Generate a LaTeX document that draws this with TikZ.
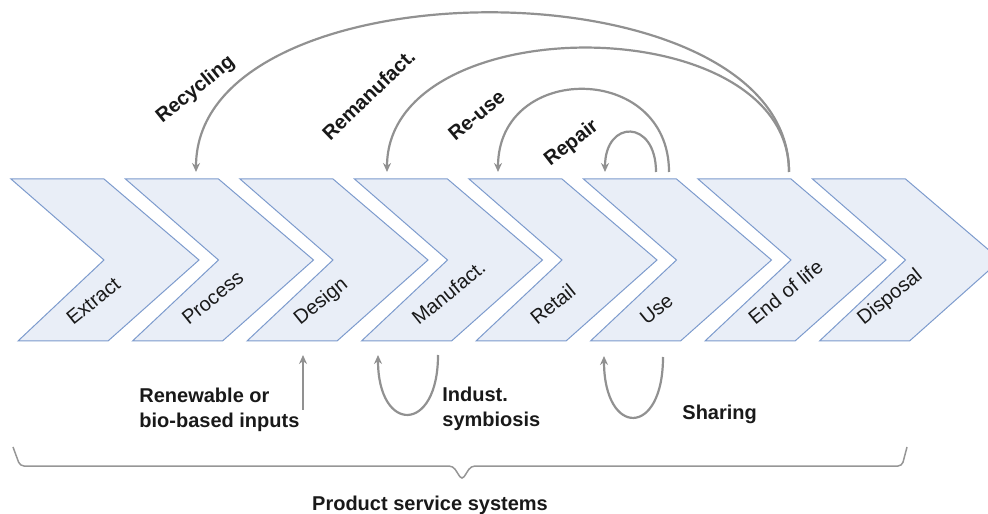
\documentclass[tikz,border=0pt]{standalone}
\usepackage{fontspec}
\setmainfont{Liberation Sans}
\usetikzlibrary{arrows.meta}
\definecolor{chevfill}{RGB}{233,238,247}
\definecolor{chevline}{RGB}{125,155,205}
\definecolor{loopgray}{RGB}{145,145,145}
\definecolor{bracegray}{RGB}{150,150,150}
\definecolor{txtdark}{RGB}{25,25,25}
\tikzset{
	chev/.style={draw=chevline,fill=chevfill,line width=0.5pt},
	stage/.style={anchor=base west,rotate=39,inner sep=0pt,font=\fontsize{10}{12}\selectfont,text=txtdark},
	loopline/.style={draw=loopgray,line width=1.1pt,-{Stealth[length=4.5pt,width=4pt]}},
	lbl/.style={inner sep=0pt,font=\fontsize{10}{12.2}\selectfont\bfseries,text=txtdark},
}

\begin{document}
\begin{tikzpicture}[x=0.5pt,y=0.5pt]
				\useasboundingbox (0,0) rectangle (988,513);
				% value chain
				\foreach \name/\txt/\off [count=\i from 0] in {extract/Extract/62,process/Process/63,design/Design/60,manuf/Manufact./64,retail/Retail/68,use/Use/63,eol/End of life/57,disposal/Disposal/51}{
					\pgfmathsetmacro{\xo}{11+114.5*\i}
					\draw[chev] (\xo,334) -- ++(93,0) -- ++(95,-81) -- ++(-91,-81) -- ++(-90,0) -- ++(86,81) -- cycle;
					\node[stage] (\name) at (\xo+\off,187) {\txt};
				}
				% loops above
				\coordinate (eol-a) at (789,341);
				\coordinate (process-a) at (196,341);
				\coordinate (manuf-a) at (387,341);
				\coordinate (use-a) at (669,341);
				\coordinate (retail-a) at (498,341);
				\coordinate (use-b) at (656,341);
				\coordinate (use-c) at (605,341);
				\draw[loopline] (eol-a) .. controls +(0,212) and +(0,212) .. (process-a);
				\draw[loopline] (eol-a) .. controls +(0,165) and +(0,165) .. (manuf-a);
				\draw[loopline] (use-a) .. controls +(0,110) and +(0,110) .. (retail-a);
				\draw[loopline] (use-b) .. controls +(0,53) and +(0,53) .. (use-c);
				\node[lbl,anchor=base west,rotate=39] (recycling) at (162,389) {Recycling};
				\node[lbl,anchor=base west,rotate=44] (reman) at (330,371) {Remanufact.};
				\node[lbl,anchor=base west,rotate=40] (reuse) at (455,371) {Re-use};
				\node[lbl,anchor=base west,rotate=38] (repair) at (550,346) {Repair};
				% loops below
				\coordinate (renew-a) at (303,103);
				\coordinate (design-b) at (303,158);
				\coordinate (manuf-b) at (438,158);
				\coordinate (manuf-c) at (378,158);
				\coordinate (use-d) at (663,156);
				\coordinate (use-e) at (604,157);
				\draw[loopline] (renew-a) -- (design-b);
				\draw[loopline] (manuf-b) .. controls +(0,-79) and +(0,-79) .. (manuf-c);
				\draw[loopline] (use-d) .. controls +(0,-81) and +(0,-81) .. (use-e);
				\node[lbl,align=left,anchor=north west] (renew) at (139,125) {Renewable or\\bio-based inputs};
				\node[lbl,align=left,anchor=north west] (indust) at (442,126) {Indust.\\symbiosis};
				\node[lbl,anchor=base west] (sharing) at (682,93) {Sharing};
				% brace
				\coordinate (brace-l) at (13,66);
				\coordinate (brace-r) at (907,66);
				\draw[bracegray,line width=0.75pt,rounded corners=2pt] (brace-l) -- (20,47) -- (453,47) -- (462,33) -- (471,47) -- (902,47) -- (brace-r);
				\node[lbl,anchor=base] (pss) at (430,3) {Product service systems};
\end{tikzpicture}
\end{document}
